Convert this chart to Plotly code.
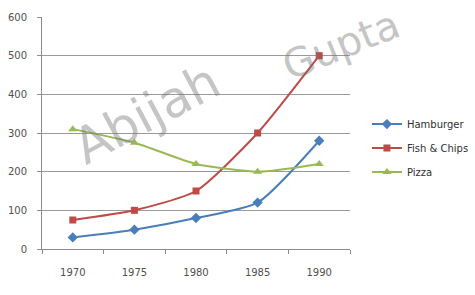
import plotly.graph_objects as go

years = ["1970", "1975", "1980", "1985", "1990"]
hamburger = [30, 50, 80, 120, 280]
fish_chips = [75, 100, 150, 300, 500]
pizza = [310, 275, 220, 200, 220]
y_ticks = [0, 100, 200, 300, 400, 500, 600]

series = [
    ("Hamburger", hamburger, "#4a7ebb", "diamond", 8),
    ("Fish & Chips", fish_chips, "#be4b48", "square", 7),
    ("Pizza", pizza, "#98b954", "triangle-up", 8),
]

fig = go.Figure()
for name, vals, color, sym, size in series:
    fig.add_trace(go.Scatter(
        x=years, y=vals, name=name, mode="lines+markers", legendgroup=name,
        line=dict(color=color, width=2, shape="spline", smoothing=0.6),
        marker=dict(symbol=sym, size=size, color=color),
    ))

# watermark
fig.add_annotation(text="Abijah", xref="paper", yref="paper", x=0.34, y=0.58,
                   xanchor="center", yanchor="middle",
                   showarrow=False, textangle=-28, opacity=0.4,
                   font=dict(family="DejaVu Sans", size=50, color="#707070"))
fig.add_annotation(text="Gupta", xref="paper", yref="paper", x=0.97, y=0.88,
                   xanchor="center", yanchor="middle",
                   showarrow=False, textangle=-22, opacity=0.4,
                   font=dict(family="DejaVu Sans", size=40, color="#707070"))

fig.update_layout(
    width=475, height=295,
    margin=dict(l=42, r=125, t=17, b=46, autoexpand=False),
    paper_bgcolor="white", plot_bgcolor="white",
    font=dict(family="DejaVu Sans", size=10, color="#505050"),
    showlegend=True,
    legend=dict(x=1.055, y=0.435, xanchor="left", yanchor="middle",
                font=dict(size=10, color="#303030"), tracegroupgap=5,
                itemwidth=30, bgcolor="rgba(0,0,0,0)"),
)
fig.update_xaxes(
    type="category", range=[-0.5, 4.5],
    showline=True, linecolor="#8c8c8c", linewidth=1,
    ticks="outside", tickson="boundaries", ticklen=4, tickcolor="#8c8c8c",
    ticklabelstandoff=14, showgrid=False,
)
fig.update_yaxes(
    range=[0, 600], tickvals=y_ticks,
    showline=True, linecolor="#8c8c8c", linewidth=1,
    ticks="outside", ticklen=4, tickcolor="#8c8c8c",
    gridcolor="#9a9a9a", gridwidth=1, zeroline=False,
    ticklabelstandoff=8,
)

fig.write_html("out.html")
